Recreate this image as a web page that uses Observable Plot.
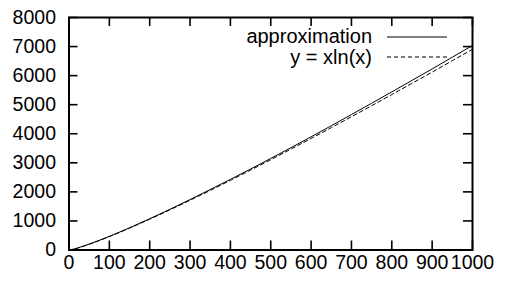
<!DOCTYPE html>
<html><head><meta charset="utf-8">
<script src="https://cdn.jsdelivr.net/npm/d3@7"></script>
<script src="https://cdn.jsdelivr.net/npm/@observablehq/plot@0.6"></script>
<style>
body{margin:0;background:#fff;font-family:"Liberation Sans",Arial,Helvetica,sans-serif;}
#wrap{position:relative;width:505px;height:282px;}
.leg{position:absolute;left:0;width:505px;height:22px;font-size:20px;line-height:22px;color:#000;}
.leg span{position:absolute;right:133px;top:0;white-space:nowrap;}
.leg svg{position:absolute;left:387px;top:0;}
</style>
</head><body>
<div id="wrap"></div>
<script>
const xTicks = [0,100,200,300,400,500,600,700,800,900,1000];
const yTicks = [0,1000,2000,3000,4000,5000,6000,7000,8000];
const xs     = [0, 10, 25, 50, 100, 150, 200, 250, 300, 350, 400, 450, 500, 550, 600, 650, 700, 750, 800, 850, 900, 950, 1000];
const approx = [0, 25, 85, 203, 470, 765, 1075, 1400, 1735, 2080, 2430, 2785, 3150, 3520, 3895, 4275, 4660, 5050, 5440, 5835, 6230, 6635, 7035];
const xlnx   = [0, 23, 80, 196, 461, 752, 1060, 1380, 1711, 2050, 2397, 2749, 3107, 3471, 3838, 4210, 4586, 4965, 5348, 5734, 6122, 6514, 6908];
const seriesNames = ["approximation", "y = xln(x)"];

const data = xs.map((x, i) => ({x, approx: approx[i], xlnx: xlnx[i]}));
const fmt = d3.format("d");
const H = 282, W = 505, mL = 68.5, mR = 33, mT = 17, mB = 32.5;
const innerH = H - mT - mB, innerW = W - mL - mR, tick = 9;
const xMin = 0, xMax = 1000, yMin = 0, yMax = 8000;
const tx = (xMax - xMin) * tick / innerW;   // tick length in x data units
const ty = (yMax - yMin) * tick / innerH;   // tick length in y data units
const tickStyle = {stroke: "#000", strokeWidth: 1.6};
const chart = Plot.plot({
  width: W, height: H,
  marginLeft: mL, marginRight: mR, marginTop: mT, marginBottom: mB,
  style: {fontFamily: '"Liberation Sans", Arial, Helvetica, sans-serif', fontSize: "19.5px", color: "#000", background: "#fff"},
  x: {domain: [xMin, xMax]},
  y: {domain: [yMin, yMax]},
  marks: [
    Plot.line(data, {x: "x", y: "xlnx", stroke: "#000", strokeWidth: 1, strokeDasharray: "4,3", curve: "monotone-x"}),
    Plot.line(data, {x: "x", y: "approx", stroke: "#000", strokeWidth: 1, curve: "monotone-x"}),
    Plot.axisX(xTicks, {anchor: "bottom", tickSize: 0, tickPadding: 5, tickFormat: fmt, label: null}),
    Plot.axisY(yTicks, {anchor: "left", tickSize: 0, tickPadding: 13, tickFormat: fmt, label: null}),
    Plot.ruleX(xTicks, {x: d => d, y1: yMin, y2: yMin + ty, ...tickStyle}),
    Plot.ruleX(xTicks, {x: d => d, y1: yMax, y2: yMax - ty, ...tickStyle}),
    Plot.ruleY(yTicks, {y: d => d, x1: xMin, x2: xMin + tx, ...tickStyle}),
    Plot.ruleY(yTicks, {y: d => d, x1: xMax, x2: xMax - tx, ...tickStyle}),
    Plot.frame({stroke: "#000", strokeWidth: 2})
  ]
});
const wrap = document.getElementById("wrap");
wrap.appendChild(chart);
const rows = [{name: seriesNames[0], top: 25, dash: null, ly: 12}, {name: seriesNames[1], top: 46, dash: "4,3", ly: 11}];
for (const r of rows) {
  const d = document.createElement("div");
  d.className = "leg";
  d.style.top = r.top + "px";
  d.innerHTML = `<span>${r.name}</span><svg width="61" height="22"><line x1="0" x2="60" y1="${r.ly}" y2="${r.ly}" stroke="#000" stroke-width="1" ${r.dash ? `stroke-dasharray="${r.dash}"` : ""}/></svg>`;
  wrap.appendChild(d);
}
</script>
</body></html>
